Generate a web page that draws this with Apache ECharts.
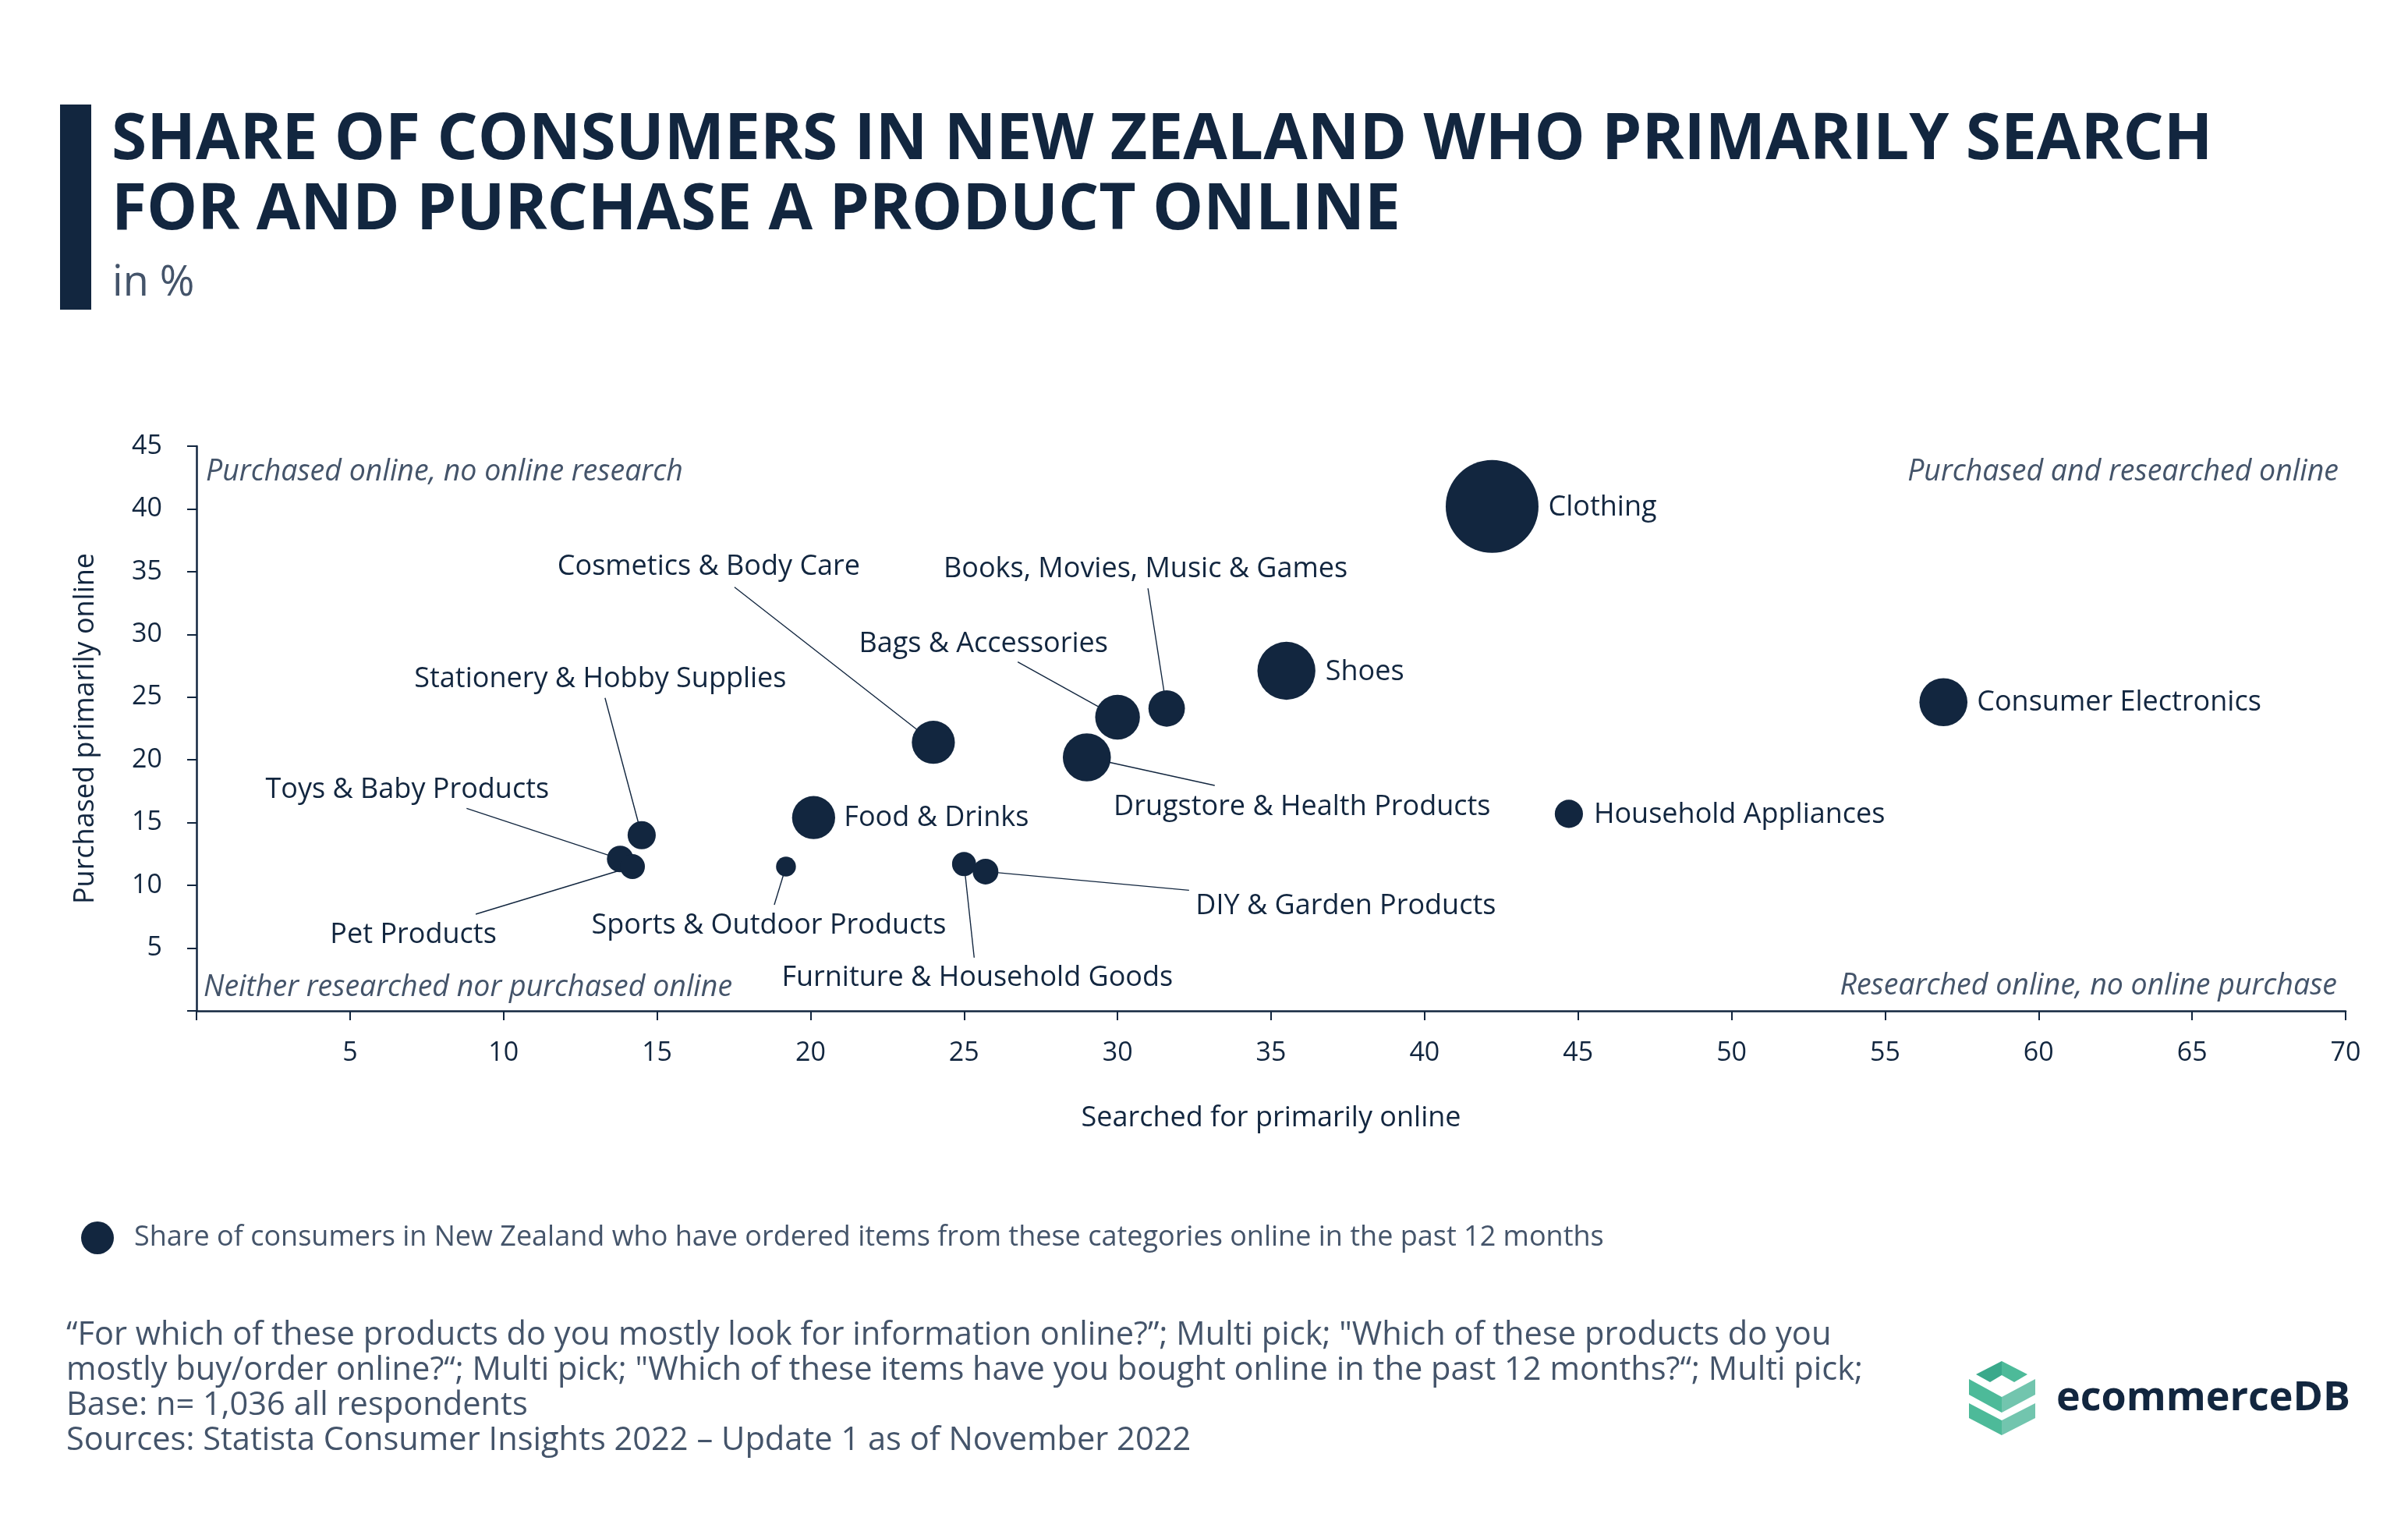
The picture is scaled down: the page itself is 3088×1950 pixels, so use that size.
<!DOCTYPE html>
<html>
<head>
<meta charset="utf-8">
<script src="https://cdn.jsdelivr.net/npm/echarts@6/dist/echarts.min.js"></script>
<style>
  html, body { margin: 0; padding: 0; background: #ffffff; }
  #chart { width: 3088px; height: 1950px; }
</style>
</head>
<body>
<div id="chart"></div>
<script>
// ---------------- DATA ----------------
var categories = [
  'Clothing', 'Consumer Electronics', 'Shoes', 'Books, Movies, Music & Games',
  'Bags & Accessories', 'Cosmetics & Body Care', 'Drugstore & Health Products',
  'Household Appliances', 'Food & Drinks', 'Stationery & Hobby Supplies',
  'Toys & Baby Products', 'Pet Products', 'Sports & Outdoor Products',
  'Furniture & Household Goods', 'DIY & Garden Products'
];
// Searched for primarily online (%)
var searched  = [42.2, 56.9, 35.5, 31.6, 30.0, 24.0, 29.0, 44.7, 20.1, 14.5, 13.8, 14.2, 19.2, 25.0, 25.7];
// Purchased primarily online (%)
var purchased = [40.2, 24.6, 27.1, 24.1, 23.4, 21.4, 20.2, 15.7, 15.4, 14.0, 12.1, 11.5, 11.5, 11.7, 11.1];
// Ordered online in the past 12 months (%) -> bubble size
var ordered   = [56, 29, 35, 22, 27, 26, 29, 17, 26, 17, 16, 15, 12, 14.5, 15.5];

var xTicks = [5, 10, 15, 20, 25, 30, 35, 40, 45, 50, 55, 60, 65, 70];
var yTicks = [5, 10, 15, 20, 25, 30, 35, 40, 45];

var legendName = 'Share of consumers in New Zealand who have ordered items from these categories online in the past 12 months';

// ---------------- STYLE / LAYOUT ----------------
var NAVY = '#12263f';
var GRAY = '#44546a';
var FONT = '"Open Sans", "Noto Sans", sans-serif';
var SIZE_K = 2.125;

// label placement relative to bubble centre (pixels) and leader-line end
var labelCfg = [
  {align: 'left',   dx: 72,   dy: 2},
  {align: 'left',   dx: 43,   dy: 1},
  {align: 'left',   dx: 50,   dy: 2},
  {align: 'center', dx: -27,  dy: -179, lx: -24,  ly: -154},
  {align: 'center', dx: -172, dy: -94,  lx: -128, ly: -71},
  {align: 'center', dx: -288, dy: -225, lx: -255, ly: -199},
  {align: 'center', dx: 276,  dy: 64,   lx: 164,  ly: 36},
  {align: 'left',   dx: 32,   dy: 1},
  {align: 'left',   dx: 39,   dy: 1},
  {align: 'center', dx: -53,  dy: -200, lx: -47,  ly: -176},
  {align: 'center', dx: -273, dy: -89,  lx: -197, ly: -65},
  {align: 'center', dx: -281, dy: 88,   lx: -201, ly: 61},
  {align: 'center', dx: -22,  dy: 76,   lx: -15,  ly: 49},
  {align: 'center', dx: 17,   dy: 146,  lx: 13,   ly: 120},
  {align: 'center', dx: 462,  dy: 44,   lx: 261,  ly: 24}
];

var seriesData = categories.map(function (c, i) {
  return [searched[i], purchased[i], ordered[i], c];
});

var GRID = {left: 252, right: 80, top: 572, bottom: 654};

var chart = echarts.init(document.getElementById('chart'), null, {renderer: 'canvas'});

function logoGraphics() {
  var cL = '#4dba99', cR = '#72c5ae', cT = '#3aa98b';
  return [
    {type: 'polygon', shape: {points: [[2534, 1762], [2567, 1745], [2567, 1763], [2552, 1772]]}, style: {fill: cT}},
    {type: 'polygon', shape: {points: [[2567, 1745], [2600, 1762], [2583, 1772], [2567, 1763]]}, style: {fill: cL}},
    {type: 'polygon', shape: {points: [[2525, 1768], [2567, 1791], [2567, 1811], [2525, 1788]]}, style: {fill: cL}},
    {type: 'polygon', shape: {points: [[2567, 1791], [2610, 1768], [2610, 1788], [2567, 1811]]}, style: {fill: cR}},
    {type: 'polygon', shape: {points: [[2525, 1799], [2567, 1821], [2567, 1840], [2525, 1818]]}, style: {fill: cL}},
    {type: 'polygon', shape: {points: [[2567, 1821], [2610, 1799], [2610, 1818], [2567, 1840]]}, style: {fill: cR}},
    {type: 'text', x: 2637, y: 1793, style: {text: 'ecommerceDB', font: 'bold 52px ' + FONT, fill: NAVY, align: 'left', verticalAlign: 'middle'}}
  ];
}

var footerLines = [
  '\u201CFor which of these products do you mostly look for information online?\u201D; Multi pick; "Which of these products do you',
  'mostly buy/order online?\u201C; Multi pick; "Which of these items have you bought online in the past 12 months?\u201C; Multi pick;',
  'Base: n= 1,036 all respondents',
  'Sources: Statista Consumer Insights 2022 \u2013 Update 1 as of November 2022'
];

var graphics = [
  {type: 'rect', shape: {x: 77, y: 134, width: 40, height: 263}, style: {fill: NAVY}},
  {type: 'text', x: 143, y: 181, style: {text: 'SHARE OF CONSUMERS IN NEW ZEALAND WHO PRIMARILY SEARCH', font: 'bold 82px ' + FONT, fill: NAVY, verticalAlign: 'middle'}},
  {type: 'text', x: 143, y: 271, style: {text: 'FOR AND PURCHASE A PRODUCT ONLINE', font: 'bold 82px ' + FONT, fill: NAVY, verticalAlign: 'middle'}},
  {type: 'text', x: 144, y: 364, style: {text: 'in %', font: '54px ' + FONT, fill: GRAY, verticalAlign: 'middle'}},
  // quadrant captions
  {type: 'text', x: 264, y: 605, style: {text: 'Purchased online, no online research', font: 'italic 37.5px ' + FONT, fill: GRAY, verticalAlign: 'middle', align: 'left'}},
  {type: 'text', x: 2999, y: 605, style: {text: 'Purchased and researched online', font: 'italic 37.5px ' + FONT, fill: GRAY, verticalAlign: 'middle', align: 'right'}},
  {type: 'text', x: 261, y: 1266, style: {text: 'Neither researched nor purchased online', font: 'italic 37.5px ' + FONT, fill: GRAY, verticalAlign: 'middle', align: 'left'}},
  {type: 'text', x: 2997, y: 1264, style: {text: 'Researched online, no online purchase', font: 'italic 37.5px ' + FONT, fill: GRAY, verticalAlign: 'middle', align: 'right'}}
];
footerLines.forEach(function (t, i) {
  graphics.push({type: 'text', x: 85, y: 1712 + i * 45, style: {text: t, font: '41.6px ' + FONT, fill: GRAY, verticalAlign: 'middle'}});
});
graphics = graphics.concat(logoGraphics());

var option = {
  animation: false,
  backgroundColor: '#ffffff',
  textStyle: {fontFamily: FONT},
  grid: GRID,
  legend: {
    data: [{name: legendName, icon: 'circle'}],
    left: 99, top: 1561,
    itemWidth: 84, itemHeight: 42,
    textStyle: {fontSize: 36, color: GRAY, fontFamily: FONT},
    selectedMode: false
  },
  xAxis: {
    type: 'value', min: 0, max: 70, interval: 5,
    name: 'Searched for primarily online', nameLocation: 'middle', nameGap: 120,
    nameTextStyle: {fontSize: 36, color: NAVY, fontFamily: FONT},
    axisLine: {show: true, lineStyle: {color: NAVY, width: 2.5}},
    axisTick: {show: true, length: 12, lineStyle: {color: NAVY, width: 2}},
    axisLabel: {
      fontSize: 34, color: NAVY, margin: 37,
      formatter: function (v) { return xTicks.indexOf(v) >= 0 ? String(v) : ''; }
    },
    splitLine: {show: false}
  },
  yAxis: {
    type: 'value', min: 0, max: 45, interval: 5,
    name: 'Purchased primarily online', nameLocation: 'middle', nameGap: 124,
    nameTextStyle: {fontSize: 36, color: NAVY, fontFamily: FONT},
    axisLine: {show: true, lineStyle: {color: NAVY, width: 2.5}},
    axisTick: {show: true, length: 12, lineStyle: {color: NAVY, width: 2}},
    axisLabel: {
      fontSize: 34, color: NAVY, margin: 44,
      formatter: function (v) { return yTicks.indexOf(v) >= 0 ? String(v) : ''; }
    },
    splitLine: {show: false}
  },
  series: [
    {
      name: 'labels',
      type: 'custom',
      z: 1,
      silent: true,
      data: seriesData,
      renderItem: function (params, api) {
        var i = params.dataIndex;
        var c = api.coord([api.value(0), api.value(1)]);
        var cfg = labelCfg[i];
        var children = [];
        if (cfg.lx != null) {
          children.push({
            type: 'line',
            shape: {x1: c[0], y1: c[1], x2: c[0] + cfg.lx, y2: c[1] + cfg.ly},
            style: {stroke: NAVY, lineWidth: 1.4}
          });
        }
        children.push({
          type: 'text',
          x: c[0] + cfg.dx, y: c[1] + cfg.dy,
          style: {text: categories[i], font: '36px ' + FONT, fill: NAVY, align: cfg.align, verticalAlign: 'middle'}
        });
        return {type: 'group', children: children};
      }
    },
    {
      name: legendName,
      type: 'scatter',
      z: 3,
      data: seriesData,
      symbol: 'circle',
      symbolSize: function (val) { return val[2] * SIZE_K; },
      itemStyle: {color: NAVY, opacity: 1},
      emphasis: {disabled: true}
    }
  ],
  graphic: graphics
};
chart.setOption(option);
</script>
</body>
</html>
